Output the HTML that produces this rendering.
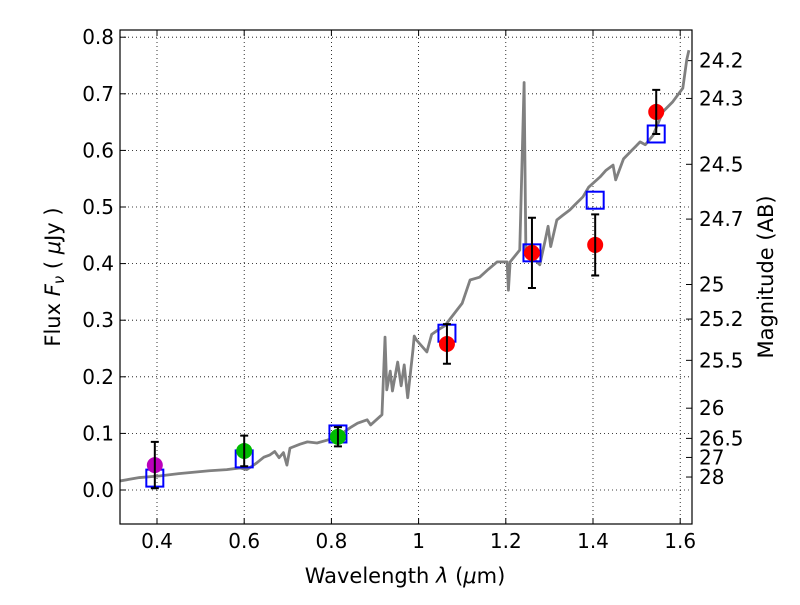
<!DOCTYPE html>
<html><head><meta charset="utf-8"><style>
body{margin:0;background:#fff}
svg{font-family:"DejaVu Sans","Liberation Sans",sans-serif}
</style></head><body>
<svg id="c" width="800" height="600"></svg>
<script>
const specLam=[0.315,0.36,0.407,0.45,0.52,0.56,0.59,0.606,0.629,0.645,0.659,0.67,0.68,0.69,0.698,0.705,0.728,0.745,0.767,0.79,0.813,0.843,0.86,0.882,0.89,0.916,0.923,0.927,0.935,0.94,0.952,0.96,0.967,0.975,0.987,0.99,0.995,1.019,1.03,1.045,1.06,1.088,1.1,1.118,1.14,1.16,1.18,1.203,1.206,1.21,1.232,1.242,1.246,1.25,1.278,1.29,1.297,1.303,1.317,1.33,1.347,1.36,1.377,1.39,1.416,1.43,1.446,1.452,1.47,1.485,1.508,1.52,1.538,1.56,1.583,1.606,1.615,1.62];
const specFlux=[0.016,0.022,0.025,0.029,0.034,0.036,0.039,0.036,0.048,0.058,0.062,0.068,0.057,0.066,0.044,0.074,0.081,0.085,0.083,0.088,0.094,0.11,0.118,0.124,0.115,0.133,0.27,0.177,0.21,0.175,0.226,0.184,0.221,0.163,0.247,0.272,0.265,0.244,0.275,0.283,0.29,0.318,0.33,0.371,0.376,0.39,0.403,0.403,0.353,0.403,0.424,0.72,0.424,0.42,0.398,0.44,0.466,0.43,0.477,0.485,0.495,0.505,0.518,0.535,0.553,0.565,0.574,0.548,0.585,0.597,0.615,0.61,0.627,0.668,0.686,0.71,0.76,0.777];
const obsLam=[0.395,0.60,0.815,1.065,1.26,1.405,1.545];
const obsFlux=[0.044,0.069,0.094,0.258,0.419,0.433,0.668];
const obsErr=[0.041,0.027,0.017,0.035,0.062,0.054,0.039];
const obsColors=['#bb00bb','#00bb00','#00bb00','red','red','red','red'];
const modelFlux=[0.021,0.055,0.099,0.277,0.419,0.512,0.629];
const xTicks=[0.4,0.6,0.8,1,1.2,1.4,1.6];
const xTickLabels=['0.4','0.6','0.8','1','1.2','1.4','1.6'];
const yTicks=[0,0.1,0.2,0.3,0.4,0.5,0.6,0.7,0.8];
const yTickLabels=['0.0','0.1','0.2','0.3','0.4','0.5','0.6','0.7','0.8'];
const magTicks=[24.2,24.3,24.5,24.7,25,25.2,25.5,26,26.5,27,28];
const magLabels=['24.2','24.3','24.5','24.7','25','25.2','25.5','26','26.5','27','28'];

const L=120,R=692,T=30,B=524;
const X=v=>157+(v-0.4)*436;
const Y=v=>490-v*566;
const svg=document.getElementById('c');
const NS='http://www.w3.org/2000/svg';
function mk(t,a,p){const e=document.createElementNS(NS,t);for(const k in a)e.setAttribute(k,a[k]);(p||svg).appendChild(e);return e;}
xTicks.forEach((v,i)=>{
 const g=mk('line',{x1:X(v),x2:X(v),y1:T,y2:B,stroke:'#000','stroke-dasharray':'1,3','stroke-width':0.8});
 
 
 const tk=mk('line',{x1:X(v),x2:X(v),y1:B,y2:B-6,stroke:'#000'});
 
 
 mk('line',{x1:X(v),x2:X(v),y1:T,y2:T+6,stroke:'#000'});
 const t=mk('text',{x:X(v),y:B+24,'font-size':20,'text-anchor':'middle'});t.textContent=xTickLabels[i];
 
 
});
yTicks.forEach((v,i)=>{
 const g=mk('line',{x1:L,x2:R,y1:Y(v),y2:Y(v),stroke:'#000','stroke-dasharray':'1,3','stroke-width':0.8});
 
 
 mk('line',{x1:L,x2:L+6,y1:Y(v),y2:Y(v),stroke:'#000'});
 const t=mk('text',{x:L-6,y:Y(v)+7,'font-size':20,'text-anchor':'end'});t.textContent=yTickLabels[i];
 
 
});
magTicks.forEach((m,i)=>{
 const f=Math.pow(10,(23.9-m)/2.5);
 mk('line',{x1:R,x2:R-6,y1:Y(f),y2:Y(f),stroke:'#000'});
 const t=mk('text',{x:R+7,y:Y(f)+7,'font-size':20});t.textContent=magLabels[i];
 
 
});
const clip=mk('clipPath',{id:'cp'});mk('rect',{x:L,y:T,width:R-L,height:B-T},clip);
const sp=mk('polyline',{points:specLam.map((l,i)=>X(l)+','+Y(specFlux[i])).join(' '),fill:'none',stroke:'#808080','stroke-width':2.8,'clip-path':'url(#cp)','stroke-linejoin':'round'});


obsLam.forEach((l,i)=>{
 const r=mk('rect',{x:X(l)-8.5,y:Y(modelFlux[i])-8.5,width:17,height:17,fill:'none',stroke:'#0000ff','stroke-width':2});
 
 
});
obsLam.forEach((l,i)=>{
 const x=X(l),y1=Y(obsFlux[i]+obsErr[i]),y2=Y(obsFlux[i]-obsErr[i]);
 const c=mk('circle',{cx:x,cy:Y(obsFlux[i]),r:8,fill:obsColors[i]});
 
 
 const e=mk('path',{d:`M${x},${y1}V${y2}M${x-4},${y1}H${x+4}M${x-4},${y2}H${x+4}`,stroke:'#000','stroke-width':2,fill:'none'});
 
 
});
const fr=mk('rect',{x:L,y:T,width:R-L,height:B-T,fill:'none',stroke:'#000','stroke-width':1.2});


</script>
<svg width="800" height="600" style="position:absolute;left:0;top:0">
<text x="405" y="583" font-size="21" text-anchor="middle" font-family="DejaVu Sans,sans-serif">Wavelength  <tspan font-style="italic">λ</tspan> (<tspan font-style="italic">μ</tspan>m)</text>
<text transform="translate(60,277) rotate(-90)" font-size="21" text-anchor="middle" font-family="DejaVu Sans,sans-serif">Flux  <tspan font-style="italic">F</tspan><tspan font-style="italic" font-size="15" dy="4">ν</tspan><tspan dy="-4">  (  </tspan><tspan font-style="italic">μ</tspan>Jy )</text>
<text transform="translate(773,277) rotate(-90)" font-size="21" text-anchor="middle" font-family="DejaVu Sans,sans-serif">Magnitude (AB)</text>
</svg>
</body></html>
